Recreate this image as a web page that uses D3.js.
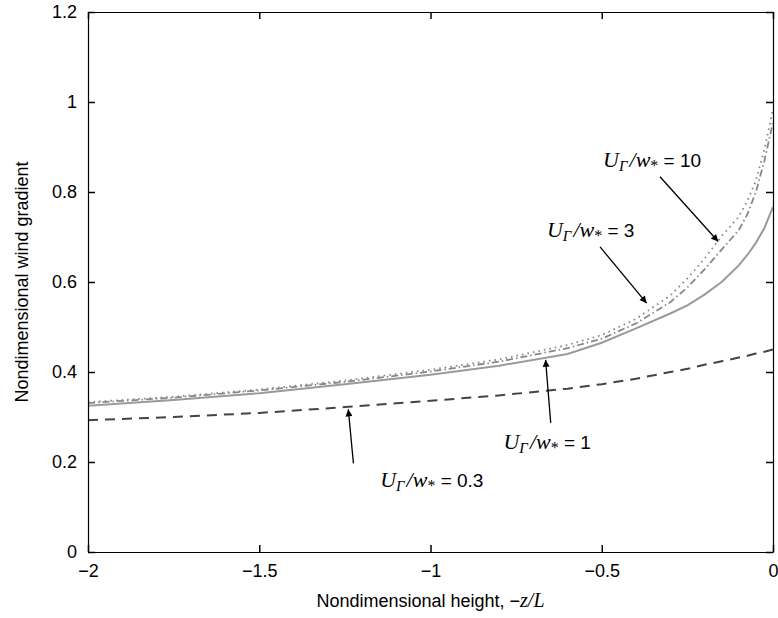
<!DOCTYPE html>
<html><head><meta charset="utf-8">
<script src="https://d3js.org/d3.v7.min.js"></script>
<style>body{margin:0;background:#fff}</style>
</head><body>
<script>
// ---- data ----
const xs = [-2, -1.75, -1.5, -1.25, -1.0, -0.8, -0.6, -0.5, -0.4, -0.3, -0.25, -0.2, -0.15, -0.1, -0.075, -0.05, -0.025, 0];
const ratio03 = [0.293, 0.300, 0.309, 0.322, 0.336, 0.348, 0.363, 0.373, 0.385, 0.400, 0.407, 0.416, 0.424, 0.432, 0.436, 0.441, 0.445, 0.450];
const ratio1  = [0.325, 0.338, 0.353, 0.373, 0.394, 0.414, 0.440, 0.465, 0.497, 0.530, 0.548, 0.572, 0.600, 0.637, 0.660, 0.687, 0.720, 0.767];
const ratio3  = [0.331, 0.343, 0.359, 0.378, 0.401, 0.423, 0.453, 0.474, 0.508, 0.555, 0.588, 0.628, 0.672, 0.715, 0.750, 0.800, 0.870, 0.955];
const ratio10 = [0.333, 0.345, 0.361, 0.381, 0.405, 0.428, 0.460, 0.482, 0.518, 0.570, 0.608, 0.652, 0.702, 0.745, 0.780, 0.825, 0.895, 0.985];
const xTicks = [-2, -1.5, -1, -0.5, 0];
const xTickLabels = ["\u22122", "\u22121.5", "\u22121", "\u22120.5", "0"];
const yTicks = [0, 0.2, 0.4, 0.6, 0.8, 1.0, 1.2];
const yTickLabels = ["0", "0.2", "0.4", "0.6", "0.8", "1", "1.2"];
const labelValues = ["10", "3", "1", "0.3"];
// annotation anchors in data units: [labelX, labelY, arrowFromX, arrowFromY, arrowTipX, arrowTipY]
const labelAnchors = [
  [-0.496, 0.856, -0.330, 0.834, -0.160, 0.690],
  [-0.660, 0.700, -0.505, 0.678, -0.369, 0.553],
  [-0.787, 0.230, -0.649, 0.287, -0.664, 0.427],
  [-1.147, 0.145, -1.225, 0.197, -1.240, 0.317]
];

// ---- layout ----
const W = 778, H = 618;
const L = 88, R = 773, T = 12, B = 552;
const svg = d3.select("body").append("svg").attr("width", W).attr("height", H)
  .style("font-family", "'Liberation Sans', Arial, sans-serif");
const x = d3.scaleLinear().domain([-2, 0]).range([L, R]);
const y = d3.scaleLinear().domain([0, 1.2]).range([B, T]);

// defs arrow
svg.append("defs").append("marker").attr("id", "ah")
  .attr("viewBox", "0 0 10 10").attr("refX", 10).attr("refY", 5)
  .attr("markerWidth", 9).attr("markerHeight", 7).attr("markerUnits", "userSpaceOnUse")
  .attr("orient", "auto")
  .append("path").attr("d", "M0,0 L10,5 L0,10 z").attr("fill", "#000");

// curves
const line = d3.line().x((d, i) => x(xs[i])).y(d => y(d));
const series = [
  {v: ratio03, color: "#444", width: 2, dash: "10,7"},
  {v: ratio1, color: "#9a9a9a", width: 2, dash: null},
  {v: ratio3, color: "#888", width: 1.8, dash: "7,3,1.5,3"},
  {v: ratio10, color: "#888", width: 1.8, dash: "1.6,4"}
];
const g = svg.append("g");
series.forEach(s => {
  const p = g.append("path").datum(s.v).attr("d", line)
    .attr("fill", "none").attr("stroke", s.color).attr("stroke-width", s.width);
  if (s.dash) p.attr("stroke-dasharray", s.dash);
});

// axes (box, inward ticks)
const tickLen = 7;
const axB = svg.append("g").attr("transform", `translate(0,${B})`)
  .call(d3.axisBottom(x).tickValues(xTicks).tickSizeInner(-tickLen).tickSizeOuter(0).tickPadding(12)
    .tickFormat((d, i) => xTickLabels[i]));
const axT = svg.append("g").attr("transform", `translate(0,${T})`)
  .call(d3.axisTop(x).tickValues(xTicks).tickSizeInner(-tickLen).tickSizeOuter(0).tickFormat(""));
const axL = svg.append("g").attr("transform", `translate(${L},0)`)
  .call(d3.axisLeft(y).tickValues(yTicks).tickSizeInner(-tickLen).tickSizeOuter(0).tickPadding(11)
    .tickFormat((d, i) => yTickLabels[i]));
const axR = svg.append("g").attr("transform", `translate(${R},0)`)
  .call(d3.axisRight(y).tickValues(yTicks).tickSizeInner(-tickLen).tickSizeOuter(0).tickFormat(""));
[axB, axT, axL, axR].forEach(a => {
  a.selectAll("path.domain").attr("stroke", "#000").attr("stroke-width", 1.2);
  a.selectAll(".tick line").attr("stroke", "#000").attr("stroke-width", 1.5);
  a.selectAll("text").attr("font-size", 18).attr("fill", "#000")
    .style("font-family", "'Liberation Sans', Arial, sans-serif");
});

// axis titles
const xt = svg.append("text").attr("x", (L + R) / 2).attr("y", 607).attr("text-anchor", "middle")
  .attr("font-size", 18).attr("fill", "#000");
xt.append("tspan").text("Nondimensional height, ");
xt.append("tspan").text("\u2212");
xt.append("tspan").attr("font-family", "'Liberation Serif', 'Times New Roman', serif").attr("font-style", "italic").attr("font-size", 20).text("z/L");

svg.append("text").attr("transform", `translate(28,${(T + B) / 2}) rotate(-90)`)
  .attr("text-anchor", "middle").attr("font-size", 18).attr("fill", "#000")
  .text("Nondimensional wind gradient");

// annotations
labelAnchors.forEach((a, i) => {
  svg.append("line").attr("x1", x(a[2])).attr("y1", y(a[3])).attr("x2", x(a[4])).attr("y2", y(a[5]))
    .attr("stroke", "#000").attr("stroke-width", 1.3).attr("marker-end", "url(#ah)");
  const t = svg.append("text").attr("x", x(a[0])).attr("y", y(a[1])).attr("fill", "#000");
  const serif = "'Liberation Serif', 'Times New Roman', serif";
  t.append("tspan").attr("font-family", serif).attr("font-style", "italic").attr("font-size", 22).text("U");
  t.append("tspan").attr("font-family", serif).attr("font-style", "italic").attr("font-size", 15).attr("dy", 4).text("\u0393");
  t.append("tspan").attr("font-family", serif).attr("font-style", "italic").attr("font-size", 22).attr("dy", -4).attr("dx", 2).text("/w");
  t.append("tspan").attr("font-family", serif).attr("font-size", 16).attr("dy", 4).text("*");
  t.append("tspan").attr("font-size", 19).attr("dy", -4).text(" = " + labelValues[i]);
});
</script>
</body></html>
